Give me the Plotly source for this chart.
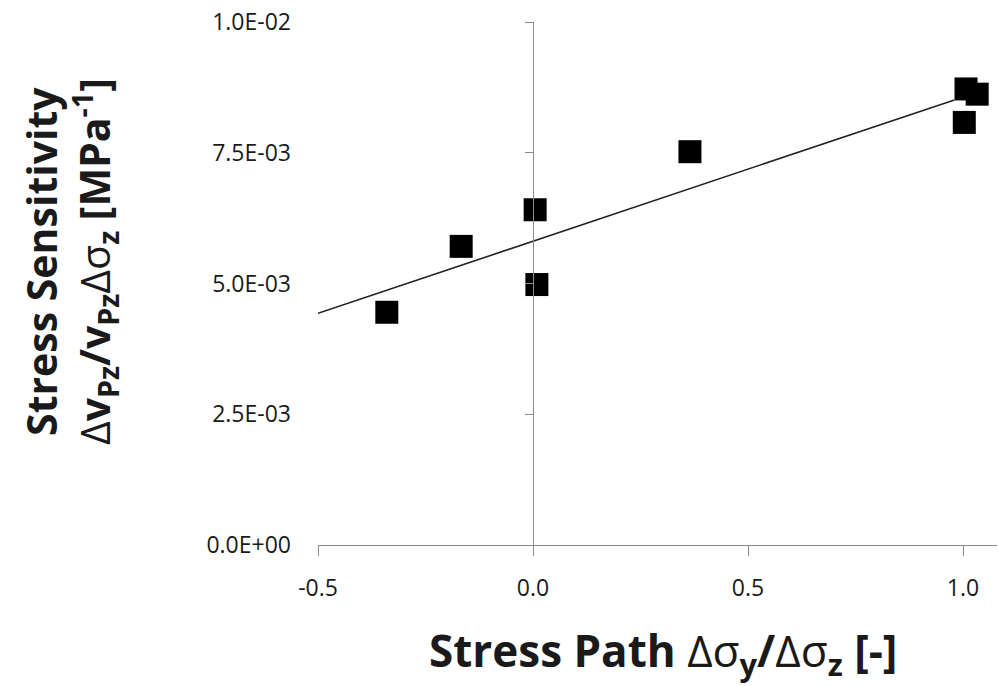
import plotly.graph_objects as go

# Data
stress_path = [-0.34, -0.167, 0.005, 0.009, 0.365, 1.007, 1.033, 1.003]
sensitivity = [0.00445, 0.00571, 0.00641, 0.00498, 0.00752, 0.00872, 0.00862, 0.00808]

trend_x = [-0.5, 0.98]
trend_y = [0.00443, 0.00851]

x_ticks = [-0.5, 0.0, 0.5, 1.0]
x_tick_labels = ["-0.5", "0.0", "0.5", "1.0"]
y_ticks = [0.0, 0.0025, 0.005, 0.0075, 0.01]
y_tick_labels = ["0.0E+00", "2.5E-03", "5.0E-03", "7.5E-03", "1.0E-02"]

FONT = "Open Sans"
AXIS_GRAY = "#8c8c8c"
TXT = "#1a1a1a"

W, H = 999, 686
PL, PR, PT, PB = 318, 997, 22, 545  # plot area in page pixels

fig = go.Figure()
fig.add_trace(go.Scatter(x=trend_x, y=trend_y, mode="lines",
                         line=dict(color="#222222", width=1.6),
                         showlegend=False, hoverinfo="skip"))
fig.add_trace(go.Scatter(x=stress_path, y=sensitivity, mode="markers",
                         marker=dict(symbol="square", size=23, color="black",
                                     line=dict(width=0)),
                         showlegend=False))
fig.add_trace(go.Scatter(x=[None], y=[None], yaxis="y2", showlegend=False,
                         hoverinfo="skip"))

x_range = [-0.5, -0.5 + (PR - PL) / 430.0]
frac0 = (0 - x_range[0]) / (x_range[1] - x_range[0])

fig.update_layout(
    width=W, height=H,
    margin=dict(l=PL, r=W - PR, t=PT, b=H - PB),
    paper_bgcolor="white", plot_bgcolor="white",
    font=dict(family=FONT, color=TXT),
    xaxis=dict(range=x_range, tickvals=x_ticks, ticktext=x_tick_labels,
               showgrid=False, zeroline=False, automargin=False,
               showline=True, linecolor=AXIS_GRAY, linewidth=1.2,
               ticks="outside", ticklen=10, tickcolor=AXIS_GRAY, tickwidth=1.2,
               tickfont=dict(size=23, family=FONT, color=TXT),
               ticklabelstandoff=12, ticklabeloverflow="allow"),
    yaxis=dict(range=[0, 0.01], tickvals=y_ticks, ticktext=y_tick_labels,
               showgrid=False, zeroline=False, showline=False, ticks="",
               automargin=False, ticklabeloverflow="allow",
               tickfont=dict(size=23, family=FONT, color=TXT),
               ticklabelstandoff=26),
    yaxis2=dict(range=[0, 0.01], tickvals=y_ticks, overlaying="y",
                anchor="free", position=frac0, side="left",
                showticklabels=False, showgrid=False, zeroline=False,
                showline=True, linecolor=AXIS_GRAY, linewidth=1.2,
                ticks="outside", ticklen=8, tickcolor=AXIS_GRAY, tickwidth=1.2),
)

pw, ph = PR - PL, PB - PT
fig.add_annotation(
    xref="paper", yref="paper",
    x=(663 - PL) / pw, y=(PB - 652) / ph,
    text=("<b>Stress Path </b><span style='font-weight:normal'>Δσ</span>"
          "<b><sub>y</sub>/</b><span style='font-weight:normal'>Δσ</span>"
          "<b><sub>z</sub> [-]</b>"),
    showarrow=False, font=dict(size=44, family=FONT, color=TXT),
    xanchor="center", yanchor="middle")

fig.add_annotation(
    xref="paper", yref="paper",
    x=(70 - PL) / pw, y=(PB - 262) / ph,
    text=("<b>Stress Sensitivity</b><br>"
          "<span style='font-weight:normal'>Δ</span><b>v<sub>Pz</sub>/v<sub>Pz</sub></b>"
          "<span style='font-weight:normal'>Δσ</span><b><sub>z</sub> [MPa<sup>-1</sup>]</b>"),
    showarrow=False, textangle=-90, font=dict(size=41, family=FONT, color=TXT),
    xanchor="center", yanchor="middle")

fig.write_html("out.html",
               config={"displayModeBar": False},
               post_script="document.body.style.margin='0';"
                           "document.body.style.overflow='hidden';")
